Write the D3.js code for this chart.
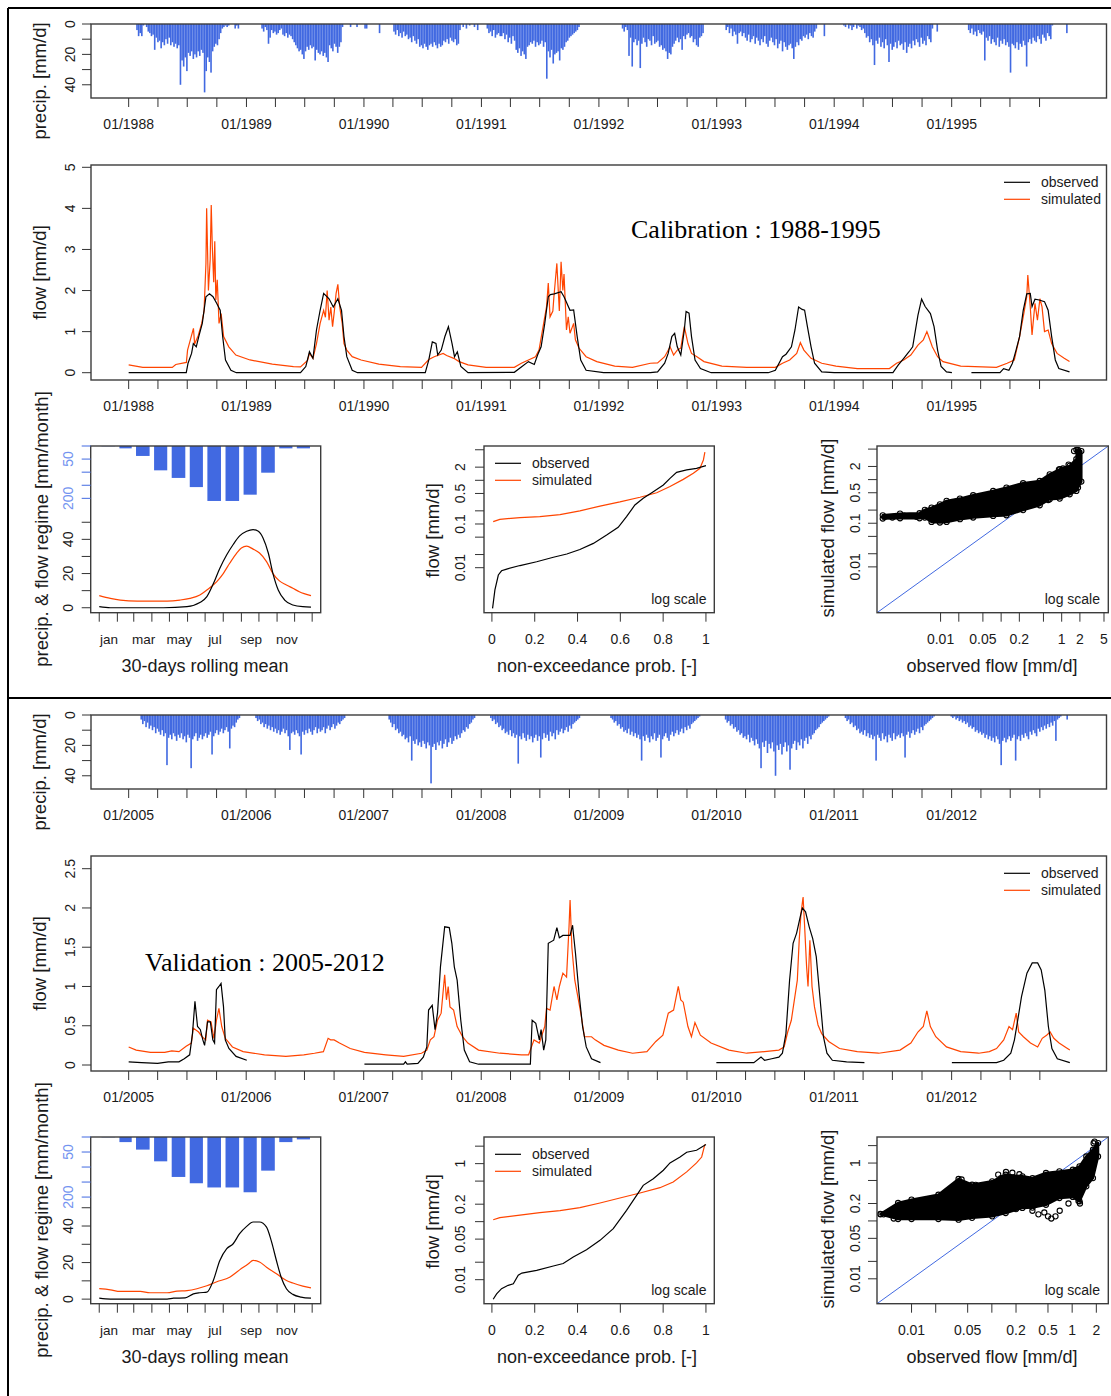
<!DOCTYPE html>
<html><head><meta charset="utf-8">
<script src="https://cdn.jsdelivr.net/npm/d3@7"></script>
<style>
body{margin:0;background:#fff}
svg{display:block}
text{font-family:"Liberation Sans",Arial,sans-serif}
</style></head>
<body><svg id="chart" width="1111" height="1396"></svg>
<script>
// ===================== DATA =====================
// daily-precip bars, 5-day steps, each season: start (decimal year) + values [mm/d]
const precipCalStarts = [1988.064, 1989.126, 1990.249, 1991.166, 1992.194, 1993.074, 1994.076, 1995.138];
const precipCalValues = [
 [4,8,6,8,1,0,2,5,6,8,7,17,9,12,11,16,12,14,10,13,9,14,12,15,13,16,14,40,24,28,22,31,19,21,18,23,20,22,18,21,17,19,45,31,22,25,32,18,15,13,14,10,6,3,2,1,2,1,0,0,0,3,1,3,0],
 [3,5,2,4,13,9,4,6,5,7,6,4,3,7,8,6,9,7,8,10,12,14,16,18,17,20,23,18,15,17,14,16,15,24,17,19,20,18,21,19,22,25,14,16,18,13,15,19,15,12,2,0,0,0,0,2,0,0,0,2,0,0,0,0,3,3,0,0,0,0,0,0,0,6],
 [5,7,4,8,6,9,5,8,7,10,9,12,8,11,13,10,15,14,16,13,15,17,14,13,15,12,14,16,13,15,14,11,12,10,13,9,11,12,10,14,13,4,0,2,0,3,0,1,0,0,2,0,4,0,0,0,0,0,3,6,5,8,4,9,7,6,8],
 [8,6,10,7,12,9,13,8,11,17,19,16,21,18,20,23,15,14,12,13,11,15,12,14,13,11,15,12,36,18,22,17,26,20,19,18,24,16,17,15,12,11,9,8,7,6,5,4,2],
 [3,5,2,4,21,9,28,12,10,14,11,29,13,9,12,15,10,11,14,8,13,12,11,15,14,17,16,18,23,19,20,15,13,11,9,12,10,17,8,10,7,6,9,8,12,10,14,15,9,8,6,0],
 [4,2,6,3,8,5,7,13,6,5,8,6,9,11,7,12,10,8,13,9,11,14,10,12,8,13,15,11,9,12,14,10,16,13,11,18,12,15,17,14,13,16,23,15,12,14,10,11,8,9,7,10,6,8,9,5,3,0,0,0,0,8],
 [1,2,0,3,1,4,2,0,3,1,2,4,3,6,9,8,12,10,14,27,11,13,9,15,12,16,10,14,25,13,17,15,12,16,11,14,13,17,12,19,15,13,16,11,14,10,12,15,9,13,11,14,8,10,12,3,0,0,5],
 [4,6,3,7,5,8,4,6,7,5,24,9,11,8,13,10,12,14,9,15,11,13,10,14,12,15,32,13,14,16,12,17,13,15,11,14,28,12,10,13,9,11,12,8,10,13,7,9,11,6,8,10,1,0,0,0,0,0,0,0,0,6]
];
const precipValStarts = [2005.10, 2006.077, 2007.21, 2008.075, 2009.095, 2010.07, 2011.09, 2011.99];
const precipValValues = [
 [3,6,4,8,5,9,7,10,8,12,9,11,13,10,14,12,33,15,13,16,12,14,17,13,15,12,16,14,18,13,15,35,16,14,12,17,15,13,16,14,12,15,13,11,26,14,12,10,13,11,9,12,10,8,11,22,9,7,8,5,3,2],
 [2,4,3,6,5,8,6,9,7,10,8,11,9,12,10,13,11,9,12,10,14,23,12,11,13,10,12,14,26,11,13,10,12,9,11,13,10,8,12,9,11,10,8,12,9,7,10,8,6,9,7,5,6,4,3,2],
 [3,5,8,6,10,9,12,11,14,13,16,15,18,14,30,17,19,16,20,18,21,17,19,22,18,20,45,21,19,23,18,20,17,22,19,16,21,18,15,19,17,14,16,13,15,12,10,11,8,9,6,5,3,2],
 [2,4,3,6,5,8,7,10,9,12,11,13,10,14,12,15,13,32,14,16,12,15,17,13,16,14,18,15,13,17,14,28,16,12,15,13,17,11,14,12,16,10,13,11,9,12,10,8,11,7,9,6,5,4,3,2],
 [2,3,5,4,7,6,9,8,11,10,12,9,13,11,14,12,15,13,16,30,14,17,13,15,18,14,16,12,17,15,13,28,16,14,12,15,17,13,11,14,12,10,13,11,9,12,8,10,7,9,6,5,4,3,2,1],
 [3,5,4,7,6,9,8,11,10,13,12,15,14,16,13,18,15,17,20,16,19,22,35,18,21,17,25,19,22,18,24,40,20,23,19,26,21,18,24,20,36,22,19,17,23,18,20,16,22,17,15,19,14,16,13,12,10,9,8,6,5,4,3,2,1],
 [2,4,3,6,5,8,7,10,9,12,11,13,10,14,12,15,13,16,14,30,13,15,17,12,16,14,18,13,15,17,12,16,14,13,15,12,14,28,13,11,15,12,10,13,11,9,12,8,10,7,6,5,4,3,2,1],
 [1,2,1,3,2,4,3,5,4,6,5,8,7,9,8,11,10,12,11,13,12,15,13,16,14,17,15,18,14,16,19,33,17,15,18,16,14,17,15,13,30,16,14,17,13,15,12,14,16,11,13,10,12,14,9,11,8,10,7,9,6,8,5,7,4,17,3,2,1,0,0,0,3]
];

// flow series [decimal year, mm/d]; null = missing observations
const obsCal = [
 [1988.0,0],[1988.489,0],[1988.504,0.23],[1988.534,0.47],[1988.549,0.71],[1988.574,0.63],[1988.595,0.88],[1988.625,1.2],[1988.656,1.85],[1988.686,1.92],[1988.716,1.85],[1988.747,1.69],[1988.777,1.52],[1988.798,0.88],[1988.822,0.31],[1988.868,0.06],[1988.914,0],
 [1989.46,0],[1989.505,0.15],[1989.536,0.51],[1989.566,0.35],[1989.596,1.04],[1989.627,1.52],[1989.657,1.93],[1989.703,1.8],[1989.739,1.6],[1989.778,1.8],[1989.809,1.52],[1989.83,0.88],[1989.854,0.39],[1989.90,0.06],[1989.945,0],
 [1990.522,0],[1990.552,0.31],[1990.582,0.75],[1990.613,0.71],[1990.628,0.43],[1990.658,0.55],[1990.689,0.88],[1990.719,1.12],[1990.75,0.71],[1990.771,0.39],[1990.795,0.51],[1990.825,0.15],[1990.886,0],
 [1991.28,0.01],[1991.40,0.27],[1991.45,0.2],[1991.478,0.43],[1991.508,0.63],[1991.539,1.2],[1991.569,1.85],[1991.587,1.9],[1991.62,1.92],[1991.678,1.97],[1991.703,1.85],[1991.754,1.52],[1991.785,1.53],[1991.815,0.88],[1991.845,0.31],[1991.891,0.06],[1992.04,0],
 [1992.437,0],[1992.498,0.02],[1992.558,0.23],[1992.588,0.47],[1992.619,0.88],[1992.643,0.96],[1992.665,0.63],[1992.695,0.43],[1992.725,1.04],[1992.74,1.49],[1992.765,1.45],[1992.786,0.88],[1992.816,0.31],[1992.862,0.1],[1992.953,0],
 [1993.439,0],[1993.499,0.06],[1993.56,0.39],[1993.59,0.45],[1993.636,0.63],[1993.666,1.04],[1993.697,1.6],[1993.727,1.54],[1993.748,1.52],[1993.772,1.12],[1993.803,0.63],[1993.833,0.23],[1993.894,0.02],[1994.0,0],
 [1994.50,0],[1994.546,0.19],[1994.592,0.35],[1994.637,0.51],[1994.668,0.63],[1994.713,1.4],[1994.744,1.79],[1994.774,1.61],[1994.819,1.44],[1994.85,1.12],[1994.88,0.55],[1994.91,0.15],[1994.956,0.02],[1995.002,0],
 null,
 [1995.168,0],[1995.411,0],[1995.442,0.1],[1995.487,0.06],[1995.517,0.23],[1995.548,0.55],[1995.578,0.88],[1995.609,1.52],[1995.639,1.92],[1995.669,1.93],[1995.684,1.61],[1995.709,1.79],[1995.745,1.77],[1995.79,1.73],[1995.821,1.52],[1995.851,0.88],[1995.882,0.31],[1995.912,0.1],[1996.003,0.02]
];
const simCal = [
 [1988.0,0.19],[1988.12,0.13],[1988.37,0.13],[1988.40,0.20],[1988.49,0.25],[1988.50,0.55],[1988.55,1.08],[1988.56,0.70],[1988.59,0.90],[1988.62,1.20],[1988.64,1.50],[1988.656,2.66],[1988.662,4.00],[1988.677,2.00],[1988.692,2.75],[1988.701,4.08],[1988.71,3.07],[1988.722,2.20],[1988.731,3.20],[1988.74,1.77],[1988.752,2.26],[1988.767,1.20],[1988.785,1.44],[1988.806,0.88],[1988.85,0.63],[1988.91,0.43],[1989.03,0.31],[1989.22,0.21],[1989.40,0.15],[1989.46,0.14],
 [1989.52,0.30],[1989.536,0.47],[1989.566,0.35],[1989.596,0.71],[1989.627,1.2],[1989.657,1.52],[1989.672,1.35],[1989.687,2.0],[1989.703,1.28],[1989.718,1.6],[1989.733,1.12],[1989.748,1.5],[1989.763,1.93],[1989.778,2.15],[1989.794,1.6],[1989.815,1.2],[1989.83,0.71],[1989.854,0.55],[1989.90,0.39],[1989.976,0.31],[1990.127,0.21],[1990.31,0.15],[1990.49,0.13],
 [1990.552,0.32],[1990.598,0.39],[1990.674,0.47],[1990.704,0.42],[1990.765,0.35],[1990.81,0.27],[1990.886,0.19],[1991.04,0.13],[1991.28,0.13],[1991.34,0.23],[1991.40,0.31],[1991.46,0.39],[1991.49,0.55],[1991.52,1.04],[1991.554,1.6],[1991.569,2.18],[1991.584,1.36],[1991.608,1.5],[1991.617,1.85],[1991.642,2.66],[1991.663,1.5],[1991.678,2.7],[1991.693,2.0],[1991.703,2.4],[1991.724,1.04],[1991.739,1.36],[1991.754,0.96],[1991.785,1.2],[1991.80,0.8],[1991.83,0.6],[1991.891,0.39],[1991.982,0.27],[1992.134,0.16],[1992.285,0.13],
 [1992.437,0.23],[1992.498,0.24],[1992.558,0.39],[1992.604,0.63],[1992.634,0.43],[1992.665,0.55],[1992.695,0.6],[1992.725,1.12],[1992.756,0.71],[1992.786,0.47],[1992.832,0.39],[1992.892,0.27],[1993.044,0.16],[1993.256,0.13],
 [1993.499,0.13],[1993.56,0.23],[1993.621,0.31],[1993.681,0.47],[1993.712,0.73],[1993.742,0.55],[1993.803,0.35],[1993.894,0.23],[1994.015,0.16],[1994.197,0.1],[1994.47,0.1],
 [1994.531,0.23],[1994.592,0.31],[1994.652,0.43],[1994.713,0.67],[1994.759,0.8],[1994.789,1.0],[1994.804,0.88],[1994.835,0.63],[1994.88,0.39],[1994.926,0.27],[1995.077,0.16],[1995.381,0.13],
 [1995.472,0.23],[1995.533,0.31],[1995.578,0.88],[1995.609,1.36],[1995.639,1.85],[1995.648,2.38],[1995.669,1.6],[1995.684,0.92],[1995.709,1.69],[1995.73,1.28],[1995.751,1.8],[1995.769,1.6],[1995.79,1.0],[1995.821,1.04],[1995.851,0.71],[1995.897,0.47],[1995.958,0.35],[1996.003,0.27]
];
const obsVal = [
 [2005.0,0.04],[2005.109,0.03],[2005.246,0.02],[2005.337,0.04],[2005.428,0.04],[2005.473,0.08],[2005.519,0.13],[2005.543,0.4],[2005.564,0.81],[2005.586,0.49],[2005.61,0.45],[2005.631,0.32],[2005.646,0.25],[2005.671,0.55],[2005.695,0.55],[2005.716,0.32],[2005.731,0.28],[2005.747,0.96],[2005.768,1.0],[2005.786,1.04],[2005.807,0.74],[2005.822,0.32],[2005.853,0.21],[2005.914,0.11],[2006.005,0.06],
 null,
 [2007.006,0.01],[2007.34,0.01],[2007.355,0.04],[2007.37,0.01],[2007.461,0.02],[2007.507,0.1],[2007.537,0.23],[2007.552,0.7],[2007.583,0.76],[2007.607,0.45],[2007.628,0.66],[2007.653,1.25],[2007.689,1.76],[2007.728,1.75],[2007.75,1.55],[2007.771,1.25],[2007.795,1.08],[2007.826,0.57],[2007.856,0.19],[2007.901,0.04],[2007.977,0.01],
 [2008.417,0.01],[2008.432,0.57],[2008.463,0.53],[2008.493,0.32],[2008.508,0.45],[2008.53,0.19],[2008.548,0.32],[2008.569,1.55],[2008.615,1.59],[2008.642,1.75],[2008.663,1.62],[2008.693,1.65],[2008.754,1.65],[2008.775,1.78],[2008.80,1.42],[2008.83,0.91],[2008.86,0.49],[2008.891,0.23],[2008.936,0.08],[2009.012,0.03],
 null,
 [2009.998,0.03],[2010.317,0.03],[2010.378,0.1],[2010.408,0.06],[2010.469,0.08],[2010.53,0.1],[2010.56,0.15],[2010.59,0.4],[2010.621,1.08],[2010.651,1.55],[2010.681,1.68],[2010.712,1.89],[2010.73,2.0],[2010.757,1.95],[2010.788,1.76],[2010.818,1.61],[2010.848,1.38],[2010.879,0.87],[2010.909,0.36],[2010.939,0.15],[2010.985,0.06],[2011.106,0.04],[2011.258,0.03],
 null,
 [2012.002,0.03],[2012.381,0.03],[2012.442,0.06],[2012.502,0.15],[2012.533,0.32],[2012.563,0.59],[2012.593,0.87],[2012.639,1.17],[2012.684,1.3],[2012.73,1.3],[2012.76,1.21],[2012.791,0.95],[2012.821,0.49],[2012.851,0.21],[2012.897,0.08],[2013.003,0.03]
];
const simVal = [
 [2005.0,0.23],[2005.064,0.19],[2005.185,0.16],[2005.307,0.16],[2005.367,0.18],[2005.428,0.17],[2005.489,0.24],[2005.534,0.28],[2005.549,0.47],[2005.595,0.42],[2005.625,0.36],[2005.656,0.32],[2005.671,0.57],[2005.701,0.55],[2005.725,0.34],[2005.747,0.57],[2005.768,0.72],[2005.792,0.49],[2005.822,0.34],[2005.883,0.23],[2005.974,0.17],[2006.156,0.13],[2006.338,0.11],[2006.49,0.13],[2006.581,0.15],[2006.657,0.17],[2006.697,0.34],[2006.718,0.32],[2006.748,0.32],[2006.794,0.28],[2006.885,0.21],[2007.006,0.16],[2007.188,0.13],[2007.34,0.11],
 [2007.492,0.15],[2007.537,0.19],[2007.567,0.32],[2007.598,0.36],[2007.628,0.57],[2007.659,0.66],[2007.689,1.15],[2007.704,0.83],[2007.719,1.0],[2007.734,0.74],[2007.765,0.7],[2007.795,0.49],[2007.841,0.36],[2007.886,0.28],[2007.977,0.19],[2008.159,0.15],[2008.341,0.13],[2008.402,0.13],
 [2008.448,0.32],[2008.493,0.28],[2008.539,0.49],[2008.554,0.72],[2008.584,0.7],[2008.618,1.0],[2008.642,0.83],[2008.663,1.0],[2008.693,1.17],[2008.724,1.12],[2008.745,1.76],[2008.754,2.1],[2008.769,1.5],[2008.794,1.08],[2008.815,0.91],[2008.845,0.66],[2008.876,0.36],[2008.936,0.36],[2008.967,0.32],[2009.042,0.25],[2009.164,0.19],[2009.285,0.15],
 [2009.407,0.17],[2009.483,0.3],[2009.543,0.38],[2009.589,0.66],[2009.634,0.7],[2009.674,1.0],[2009.695,0.83],[2009.716,0.8],[2009.756,0.49],[2009.786,0.36],[2009.816,0.54],[2009.862,0.38],[2009.953,0.28],[2010.105,0.19],[2010.256,0.15],[2010.408,0.17],[2010.53,0.19],
 [2010.575,0.23],[2010.605,0.42],[2010.636,0.57],[2010.666,0.87],[2010.687,1.08],[2010.703,1.59],[2010.718,1.93],[2010.736,2.14],[2010.748,1.8],[2010.766,1.25],[2010.778,1.0],[2010.794,1.59],[2010.812,1.0],[2010.833,0.74],[2010.863,0.51],[2010.894,0.4],[2010.954,0.3],[2011.046,0.21],[2011.197,0.17],[2011.379,0.15],
 [2011.561,0.19],[2011.653,0.28],[2011.713,0.42],[2011.759,0.49],[2011.789,0.69],[2011.819,0.49],[2011.865,0.36],[2011.956,0.23],[2012.077,0.17],[2012.229,0.15],[2012.32,0.17],[2012.381,0.21],[2012.442,0.32],[2012.487,0.49],[2012.517,0.45],[2012.548,0.66],[2012.569,0.42],[2012.609,0.36],[2012.669,0.28],[2012.73,0.23],[2012.769,0.34],[2012.806,0.38],[2012.836,0.42],[2012.867,0.34],[2012.912,0.28],[2012.973,0.22],[2013.003,0.19]
];

// regimes (monthly precip bars [mm/month], 30-day rolling mean flow [doy, mm/month])
const monthLabels = ["jan","mar","may","jul","sep","nov"];
const precipRegimeCal = [1, 9, 38, 93, 122, 157, 210, 210, 186, 102, 9, 9];
const precipRegimeVal = [1, 17, 42, 81, 133, 154, 168, 168, 184, 112, 17, 8];
const regimeObsCal = [[1,0.6],[20,0],[60,0],[111,0],[151,0.6],[173,3],[185,6.5],[196,14],[207,23],[219,31],[230,37],[241,42],[253,44.7],[264,45.7],[273,44.7],[281,40.8],[290,32],[298,20],[307,10.4],[318,4.5],[332,1.6],[349,0.6],[363,0.4]];
const regimeSimCal = [[1,7.1],[20,5.5],[37,4.5],[66,3.9],[117,3.9],[139,4.5],[156,5.5],[173,7.5],[185,10.4],[202,15.3],[213,20],[224,26],[236,32],[244,35],[253,36],[264,34.3],[275,32],[287,27],[298,20],[309,15.7],[321,13.3],[332,11.4],[343,9.4],[363,7.1]];
const regimeObsVal = [[1,0.5],[20,0],[60,0],[117,0],[128,0.5],[148,0.7],[162,2.9],[173,3.5],[185,3.8],[196,10.2],[207,21],[219,27.6],[230,30.3],[241,35.8],[253,39.8],[264,42.2],[275,42.2],[287,39.4],[295,32],[304,21],[312,12],[321,5.7],[332,2.6],[346,1.1],[363,0.5]];
const regimeSimVal = [[1,5.7],[20,5.1],[37,4.2],[71,4.2],[88,3.5],[117,3.5],[134,4.4],[151,4.7],[168,5.7],[185,7.3],[202,9.5],[224,12],[241,16],[256,19.3],[264,21.2],[275,20.3],[287,17.5],[304,13.9],[321,10.2],[332,8.8],[349,7.1],[363,6.2]];

// flow duration curves [non-exceedance prob, mm/d]
const fdcObsCal = [[0.003,0.00117],[0.014,0.0031],[0.030,0.0068],[0.045,0.0085],[0.069,0.0093],[0.131,0.0112],[0.209,0.0137],[0.287,0.0173],[0.350,0.0206],[0.411,0.026],[0.474,0.036],[0.536,0.056],[0.590,0.084],[0.629,0.147],[0.668,0.272],[0.707,0.39],[0.754,0.55],[0.801,0.78],[0.832,1.11],[0.863,1.52],[0.910,1.73],[0.956,1.88],[1.0,2.17]];
const fdcSimCal = [[0.006,0.113],[0.037,0.128],[0.131,0.14],[0.224,0.147],[0.318,0.164],[0.411,0.20],[0.505,0.257],[0.598,0.32],[0.692,0.41],[0.770,0.52],[0.832,0.72],[0.894,1.05],[0.941,1.45],[0.972,1.88],[0.988,2.92],[0.995,4.4]];
const fdcObsVal = [[0.006,0.0046],[0.022,0.0057],[0.045,0.007],[0.076,0.008],[0.100,0.0085],[0.123,0.0119],[0.140,0.013],[0.209,0.0145],[0.287,0.0172],[0.333,0.019],[0.380,0.0246],[0.442,0.0329],[0.505,0.0476],[0.567,0.0758],[0.629,0.157],[0.676,0.284],[0.707,0.423],[0.754,0.55],[0.801,0.77],[0.832,1.03],[0.879,1.30],[0.910,1.57],[0.956,1.70],[1.0,2.13]];
const fdcSimVal = [[0.006,0.108],[0.037,0.117],[0.131,0.130],[0.224,0.143],[0.318,0.155],[0.411,0.174],[0.505,0.21],[0.598,0.256],[0.692,0.312],[0.785,0.385],[0.847,0.483],[0.910,0.72],[0.956,1.03],[0.980,1.3],[0.995,2.15]];

// scatter sim vs obs: dense cloud envelope [obs, sim low, sim high] + scattered points [obs, sim]
const scatterCalEnvelope = [[0.00111,0.128,0.152],[0.00214,0.130,0.166],[0.0045,0.130,0.17],[0.0055,0.135,0.202],[0.0071,0.107,0.228],[0.00975,0.104,0.272],[0.01256,0.107,0.325],[0.0209,0.124,0.367],[0.0345,0.135,0.438],[0.0738,0.147,0.55],[0.1224,0.152,0.655],[0.2305,0.2,0.824],[0.434,0.258,0.931],[0.634,0.355,1.324],[0.927,0.367,1.725],[1.355,0.461,2.06],[1.745,0.55,2.93],[1.86,0.655,4.78],[2.11,0.9,4.5]];
const scatterCalPoints = [[0.0012,0.14],[0.0016,0.135],[0.0025,0.15],[0.004,0.14],[0.006,0.19],[0.0075,0.2],[0.9,1.7],[1.05,1.8],[1.6,4.5],[1.75,4.8],[1.85,4.4],[1.9,3.6],[0.08,0.2],[0.1,0.17],[0.12,0.19],[0.6,0.34],[0.7,1.1],[1.3,2.2]];
const scatterValEnvelope = [[0.0041,0.13,0.132],[0.0068,0.108,0.204],[0.01,0.108,0.233],[0.0216,0.108,0.284],[0.0385,0.105,0.53],[0.0567,0.113,0.423],[0.101,0.12,0.483],[0.1485,0.137,0.629],[0.24,0.168,0.589],[0.321,0.17,0.551],[0.472,0.19,0.673],[0.694,0.249,0.718],[1.02,0.26,0.767],[1.236,0.218,0.877],[1.5,0.396,1.3],[1.816,0.55,1.7],[2.1,1.3,2.21]];
const scatterValPoints = [[0.0045,0.13],[0.006,0.11],[0.042,0.52],[0.063,0.42],[0.12,0.63],[0.15,0.7],[0.18,0.68],[0.22,0.64],[0.13,0.55],[0.2,0.16],[0.32,0.15],[0.38,0.13],[0.45,0.14],[0.5,0.12],[0.55,0.11],[0.62,0.12],[0.7,0.15],[0.9,0.2],[1.2,0.22],[1.25,0.2],[1.85,2.2],[1.9,2.35],[0.3,0.24],[0.28,0.3]];

// axis ticks
const precipTicks = [0,10,20,30,40], precipLabels = [0,20,40];
const flowTicksCal = [0,1,2,3,4,5], flowTicksVal = [0,0.5,1,1.5,2,2.5];
const regimeFlowTicks = [0,10,20,30,40,50], regimeFlowLabels = [0,20,40];
const regimePrecipTicks = [0,50,100,150,200], regimePrecipLabels = [50,200];
const probTicks = [0,0.2,0.4,0.6,0.8,1];
const logTicksCal = [0.01,0.02,0.05,0.1,0.2,0.5,1,2,5], logLabelsCal = [0.01,0.1,0.5,2];
const logTicksVal = [0.01,0.02,0.05,0.1,0.2,0.5,1,2], logLabelsVal = [0.01,0.05,0.2,1];
const scatXTicksCal = [0.01,0.02,0.05,0.1,0.2,0.5,1,2,5], scatXLabelsCal = [0.01,0.05,0.2,1,2,5];
const scatXTicksVal = [0.01,0.02,0.05,0.1,0.2,0.5,1,2], scatXLabelsVal = [0.01,0.05,0.2,0.5,1,2];

// ===================== DRAWING =====================
const svg = d3.select("#chart");
const TXT = "#1a1a1a", BLUE = "#4169E1", RED = "#FF4500", LBLUE = "#7393f0";
const DAY = 86400000;
function dy(y){const Y=Math.floor(y);const a=Date.UTC(Y,0,1),b=Date.UTC(Y+1,0,1);return new Date(a+(y-Y)*(b-a));}
function ln(x1,y1,x2,y2,c,w){svg.append("line").attr("x1",x1).attr("y1",y1).attr("x2",x2).attr("y2",y2).attr("stroke",c||"#333").attr("stroke-width",w||1);}
function txt(x,y,s,o={}){return svg.append("text").attr("x",x).attr("y",y).attr("dy","0.35em").attr("text-anchor",o.anchor||"middle").style("font-size",(o.size||14)+"px").style("font-family",o.family||null).attr("fill",o.color||TXT).text(s);}
function vtxt(x,y,s,o={}){return svg.append("text").attr("transform",`translate(${x},${y}) rotate(-90)`).attr("dy","0.35em").attr("text-anchor","middle").style("font-size",(o.size||14)+"px").attr("fill",o.color||TXT).text(s);}
function box(x0,y0,x1,y1){svg.append("rect").attr("x",x0).attr("y",y0).attr("width",x1-x0).attr("height",y1-y0).attr("fill","none").attr("stroke","#3c3c3c").attr("stroke-width",1.4);}
function yAxis(sc,x0,ticks,labels,o={}){ticks.forEach(t=>ln(x0-9,sc(t),x0,sc(t),o.color||"#333",1));labels.forEach(v=>vtxt(x0-(o.off||22),sc(v),String(v),{size:o.size||14,color:o.tcolor||TXT}));}
function xAxis(sc,y0,ticks,labels,fmt,o={}){ticks.forEach(t=>ln(sc(t),y0,sc(t),y0+9,"#333",1));labels.forEach(v=>txt(sc(v),y0+(o.off||26.5),fmt(v),{size:o.size||14}));}
function legend(x,y1,y2){ln(x,y1,x+26,y1,"#000",1.2);ln(x,y2,x+26,y2,RED,1.2);txt(x+37,y1,"observed",{anchor:"start",size:14});txt(x+37,y2,"simulated",{anchor:"start",size:14});}

// outer frame
ln(8,8,1111,8,"#000",2); ln(8,8,8,1396,"#000",2); ln(8,698,1111,698,"#000",2);

function section(o, y0, pStarts, pVals, obs, sim, flowDom, flowRange, flowTicks, annot, annotPos,
                 pReg, rObs, rSim, rFlowDom, rPrecipDom, fObs, fSim, logDom, logTicks, logLabels,
                 sEnv, sPts, sDom, sxTicks, sxLabels){
  const xt = d3.scaleUtc().domain([new Date(Date.UTC(y0-1,8,6)), new Date(Date.UTC(y0+8,3,26))]).range([91,1106.5]);
  const qTicks = d3.utcMonth.every(3).range(new Date(Date.UTC(y0,0,1)), new Date(Date.UTC(y0+7,10,1)));
  const jTicks = qTicks.filter(d=>d.getUTCMonth()===0);
  const fmt = d3.utcFormat("%m/%Y");
  // ---- precip panel
  const yp = d3.scaleLinear().domain([0,48.7]).range([24+o,98+o]);
  pStarts.forEach((s,k)=>{
    const t0 = +dy(s);
    svg.append("g").selectAll("rect").data(pVals[k]).join("rect")
      .attr("x",(v,i)=>xt(new Date(t0+i*5*DAY)))
      .attr("width",(v,i)=>xt(new Date(t0+(i+1)*5*DAY))-xt(new Date(t0+i*5*DAY)))
      .attr("y",yp(0)).attr("height",v=>yp(v)-yp(0)).attr("fill",BLUE);
  });
  box(91,24+o,1106.5,98+o);
  yAxis(yp,91,precipTicks,precipLabels,{off:21});
  xAxis(xt,98+o,qTicks,jTicks,fmt);
  vtxt(40,81+o,"precip. [mm/d]",{size:18.5});
  // ---- flow panel
  const yf = d3.scaleLinear().domain(flowDom).range(flowRange);
  const lineGen = d3.line().defined(d=>d!==null).x(d=>xt(dy(d[0]))).y(d=>yf(d[1]));
  svg.append("path").datum(sim).attr("d",lineGen).attr("fill","none").attr("stroke",RED).attr("stroke-width",1.2);
  svg.append("path").datum(obs).attr("d",lineGen).attr("fill","none").attr("stroke","#000").attr("stroke-width",1.2);
  box(91,165+o,1106.5,380+o);
  yAxis(yf,91,flowTicks,flowTicks,{off:21});
  xAxis(xt,380+o,qTicks,jTicks,fmt);
  vtxt(40,272.5+o,"flow [mm/d]",{size:18.5});
  legend(1004,182.3+o,199.3+o);
  txt(annotPos[0],annotPos[1]+o,annot,{anchor:"start",size:26,family:'"Liberation Serif","Times New Roman",serif',color:"#000"});
  // ---- regime panel
  const top=446+o, bot=612.7+o;
  const xr = d3.scaleLinear().domain([1-14.6,365+14.6]).range([90.7,320.7]);
  const monthStart=[1,32,60,91,121,152,182,213,244,274,305,335,365];
  const yrF = d3.scaleLinear().domain(rFlowDom).range([bot,top]);
  const yrP = d3.scaleLinear().domain(rPrecipDom).range([top,bot]);
  svg.append("g").selectAll("rect").data(pReg).join("rect")
    .attr("x",(v,i)=>{const a=xr(monthStart[i]),b=xr(monthStart[i+1]);return a+(b-a)*0.125;})
    .attr("width",(v,i)=>(xr(monthStart[i+1])-xr(monthStart[i]))*0.75)
    .attr("y",yrP(0)).attr("height",v=>yrP(v)-yrP(0)).attr("fill",BLUE);
  const rl = d3.line().x(d=>xr(d[0])).y(d=>yrF(d[1])).curve(d3.curveMonotoneX);
  svg.append("path").datum(rSim).attr("d",rl).attr("fill","none").attr("stroke",RED).attr("stroke-width",1.2);
  svg.append("path").datum(rObs).attr("d",rl).attr("fill","none").attr("stroke","#000").attr("stroke-width",1.2);
  box(90.7,top,320.7,bot);
  yAxis(yrF,90.7,regimeFlowTicks,regimeFlowLabels,{off:23});
  yAxis(yrP,90.7,regimePrecipTicks,regimePrecipLabels,{off:23,color:BLUE,tcolor:LBLUE});
  monthStart.forEach(d=>ln(xr(d),bot,xr(d),bot+9,"#333",1));
  [16,75,136,197,259,320].forEach((d,i)=>txt(xr(d)+1,bot+26.5,monthLabels[i],{size:13.5}));
  txt(205,bot+52.5,"30-days rolling mean",{size:18});
  vtxt(41.5,529+o,"precip. & flow regime  [mm/month]",{size:18.5});
  // ---- FDC panel
  const xp = d3.scaleLinear().domain([-0.037,1.039]).range([484,714.3]);
  const yl = d3.scaleLog().domain(logDom).range([bot,top]);
  const fl = d3.line().x(d=>xp(d[0])).y(d=>yl(d[1]));
  svg.append("path").datum(fSim).attr("d",fl).attr("fill","none").attr("stroke",RED).attr("stroke-width",1.2);
  svg.append("path").datum(fObs).attr("d",fl).attr("fill","none").attr("stroke","#000").attr("stroke-width",1.2);
  box(484,top,714.3,bot);
  yAxis(yl,484,logTicks,logLabels,{off:24});
  xAxis(xp,bot,probTicks,probTicks,String);
  txt(597,bot+52.5,"non-exceedance prob. [-]",{size:18});
  vtxt(433,530.5+o,"flow  [mm/d]",{size:18.5});
  legend(495,463.3+o,480.3+o);
  txt(706.5,599+o,"log scale",{anchor:"end",size:14});
  // ---- scatter panel
  const xs = d3.scaleLog().domain(sDom).range([877,1108.3]);
  const ys = d3.scaleLog().domain(sDom).range([bot,top]);
  svg.append("line").attr("x1",xs(sDom[0])).attr("y1",ys(sDom[0])).attr("x2",xs(sDom[1])).attr("y2",ys(sDom[1])).attr("stroke",BLUE).attr("stroke-width",1);
  const ar = d3.area().x(d=>xs(d[0])).y0(d=>ys(d[1])).y1(d=>ys(d[2]));
  svg.append("path").datum(sEnv).attr("d",ar).attr("fill","#000").attr("stroke","#000").attr("stroke-width",2.5).attr("stroke-linejoin","round");
  const ptsAll = sEnv.flatMap(d=>[[d[0],d[1]],[d[0],d[2]]]).concat(sPts);
  svg.append("g").selectAll("circle").data(ptsAll).join("circle")
    .attr("cx",d=>xs(d[0])).attr("cy",d=>ys(d[1])).attr("r",2.6)
    .attr("fill","none").attr("stroke","#000").attr("stroke-width",1.1);
  box(877,top,1108.3,bot);
  yAxis(ys,877,logTicks,logLabels,{off:22});
  xAxis(xs,bot,sxTicks,sxLabels,String);
  txt(992,bot+52.5,"observed flow  [mm/d]",{size:18});
  vtxt(828,528+o,"simulated flow  [mm/d]",{size:18.5});
  txt(1100,599+o,"log scale",{anchor:"end",size:14});
}

section(0, 1988, precipCalStarts, precipCalValues, obsCal, simCal, [0,5], [372.7,167.3], flowTicksCal,
  "Calibration : 1988-1995", [631,229],
  precipRegimeCal, regimeObsCal, regimeSimCal, [-2.9,94.6], [0,637],
  fdcObsCal, fdcSimCal, [Math.pow(10,-3.03), Math.pow(10,0.785)], logTicksCal, logLabelsCal,
  scatterCalEnvelope, scatterCalPoints, [Math.pow(10,-3.05), Math.pow(10,0.77)], scatXTicksCal, scatXLabelsCal);

section(691, 2005, precipValStarts, precipValValues, obsVal, simVal, [0,2.5], [1065,868.7], flowTicksVal,
  "Validation : 2005-2012", [145,271],
  precipRegimeVal, regimeObsVal, regimeSimVal, [-2.5,88.7], [0,555],
  fdcObsVal, fdcSimVal, [Math.pow(10,-2.414), Math.pow(10,0.459)], logTicksVal, logLabelsVal,
  scatterValEnvelope, scatterValPoints, [Math.pow(10,-2.43), Math.pow(10,0.45)], scatXTicksVal, scatXLabelsVal);
</script>
</body></html>
